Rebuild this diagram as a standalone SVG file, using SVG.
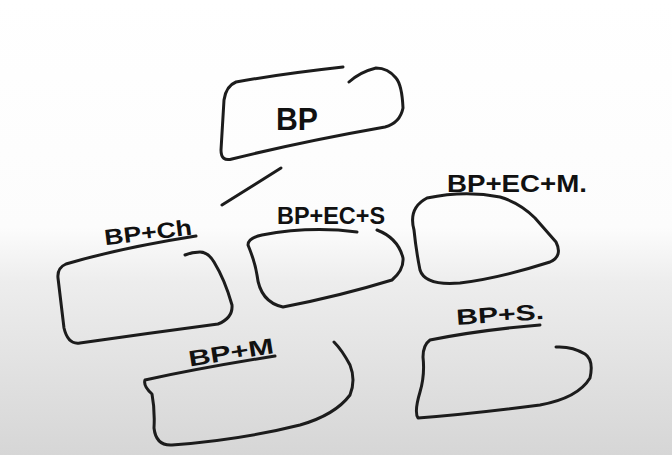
<svg xmlns="http://www.w3.org/2000/svg" width="672" height="455" viewBox="0 0 672 455">
<defs>
<linearGradient id="bg" x1="0" y1="0" x2="0" y2="1">
<stop offset="0" stop-color="#ffffff"/>
<stop offset="0.5" stop-color="#fcfcfc"/>
<stop offset="0.62" stop-color="#ededed"/>
<stop offset="1" stop-color="#d6d6d6"/>
</linearGradient>
<style>
.s{fill:none;stroke:#1c1c1c;stroke-width:3;stroke-linecap:round;stroke-linejoin:round}
.t{font-family:"Liberation Sans","DejaVu Sans",sans-serif;font-weight:bold;fill:#111;}
</style>
</defs>
<rect x="0" y="0" width="672" height="455" fill="url(#bg)"/>
<g id="connectors">
<path class="s" d="M222,205 L281,168"/>
</g>
<g id="node-bp">
<path class="s" d="M343,67 Q280,74 236,82 Q226,86 224,100 L221,150 Q221,162 232,159 Q300,142 385,127 Q400,123 403,108 Q402,85 396,78 Q388,68 376,68 Q360,72 349,82"/>
<text class="t" x="276" y="130" font-size="32" textLength="42" lengthAdjust="spacingAndGlyphs">BP</text>
</g>
<g id="node-bp-ch">
<text class="t" x="104" y="240" font-size="22" textLength="88" lengthAdjust="spacingAndGlyphs" transform="rotate(-7 148 232)">BP+Ch</text>
<path class="s" d="M196,236 Q120,248 66,264 Q57,268 58,278 L64,328 Q68,345 80,343 Q150,333 218,324 Q233,318 232,305 Q225,280 214,262 Q208,252 200,252 Q192,252 185,255"/>
</g>
<g id="node-bp-ec-s">
<text class="t" x="277" y="224" font-size="23" textLength="108" lengthAdjust="spacingAndGlyphs">BP+EC+S</text>
<path class="s" d="M357,232 Q310,226 262,235 Q248,238 248,245 Q255,262 257,275 Q260,302 283,307 Q340,296 392,280 Q404,270 403,258 Q398,238 377,230"/>
</g>
<g id="node-bp-ec-m">
<text class="t" x="447" y="192" font-size="23" textLength="140" lengthAdjust="spacingAndGlyphs">BP+EC+M.</text>
<path class="s" d="M427,198 Q465,190 500,197 Q520,203 535,218 L556,242 Q563,256 550,262 Q500,278 460,283 Q425,286 420,270 Q416,250 414,230 Q408,208 427,198 Z"/>
</g>
<g id="node-bp-m">
<text class="t" x="188" y="360" font-size="22" textLength="86" lengthAdjust="spacingAndGlyphs" transform="rotate(-9 230 352)">BP+M</text>
<path class="s" d="M275,356 Q200,368 145,380 Q143,386 152,394 Q155,410 154,428 Q156,446 172,445 Q240,440 300,425 Q335,415 350,395 Q356,380 350,365 Q342,350 334,342"/>
</g>
<g id="node-bp-s">
<text class="t" x="456" y="322" font-size="22" textLength="88" lengthAdjust="spacingAndGlyphs" transform="rotate(-4 500 314)">BP+S.</text>
<path class="s" d="M540,325 Q480,330 430,340 Q423,345 423,357 Q425,375 420,392 Q414,412 418,418 Q470,414 540,405 Q578,398 590,378 Q594,360 585,354 Q572,346 556,347"/>
</g>
</svg>
